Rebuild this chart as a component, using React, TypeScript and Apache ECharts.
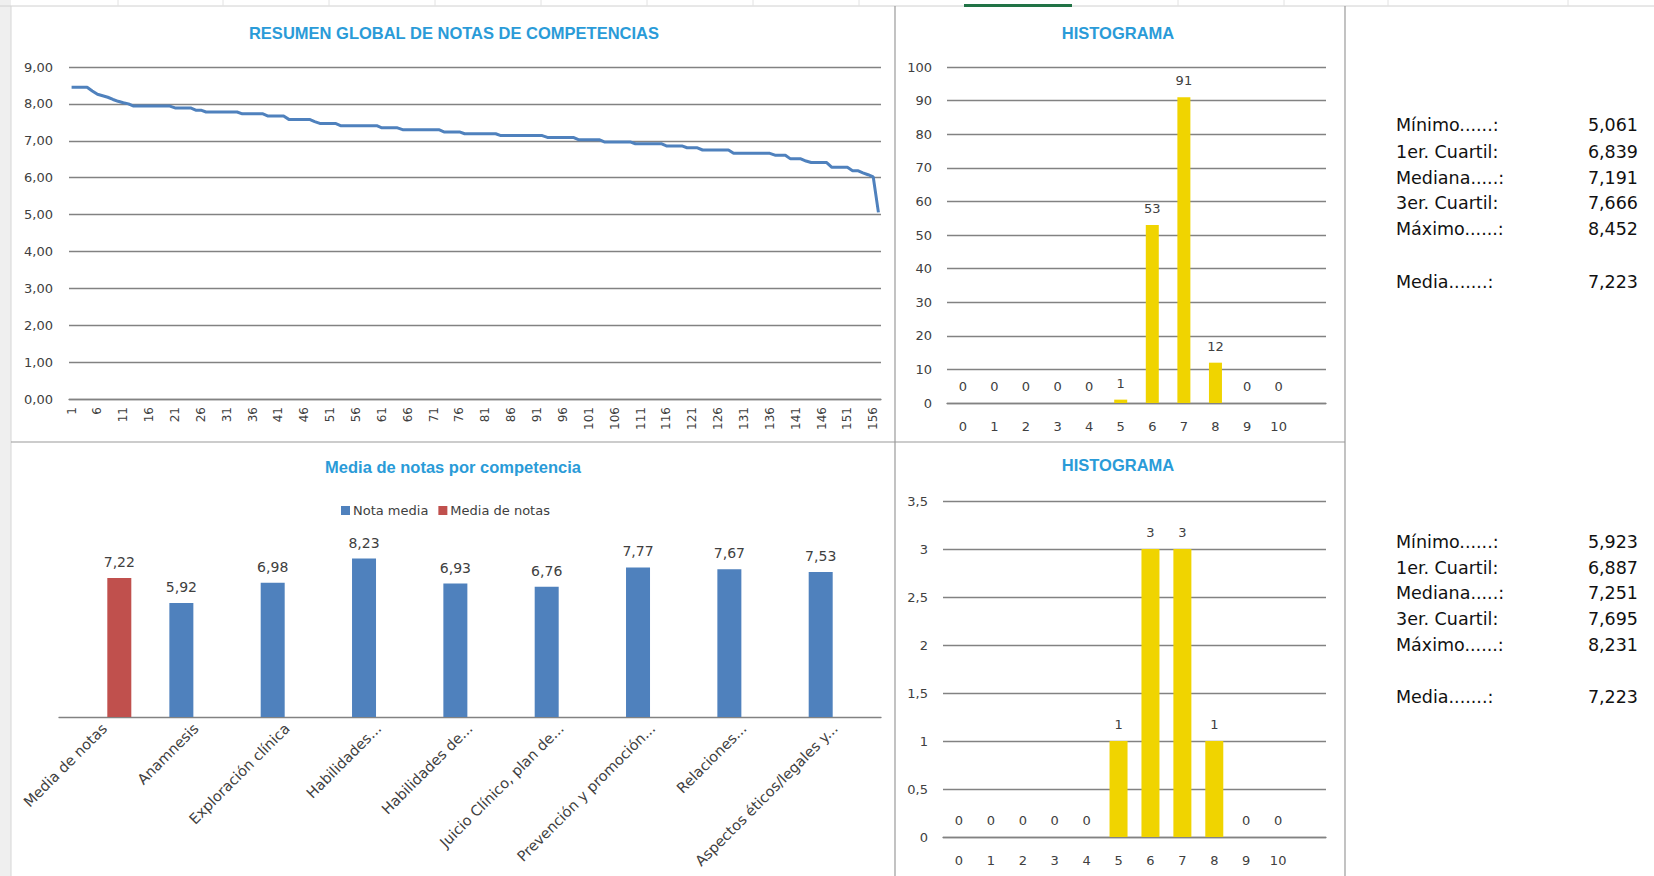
import React, { useEffect, useRef } from 'react';
import * as echarts from 'echarts';

// ---------- DATA ----------
const lineCategories: string[] = Array.from({ length: 157 }, (_, i) => String(i + 1));

const lineValues: number[] = [
  8.45, 8.45, 8.45, 8.45, 8.35, 8.26, 8.22, 8.18, 8.12, 8.07, 8.03, 8.0,
  7.94, 7.94, 7.94, 7.94, 7.94, 7.94, 7.94, 7.94,
  7.89, 7.89, 7.89, 7.89,
  7.83, 7.83,
  7.78, 7.78, 7.78, 7.78, 7.78, 7.78, 7.78,
  7.73, 7.73, 7.73, 7.73, 7.73,
  7.67, 7.67, 7.67, 7.67,
  7.58, 7.58, 7.58, 7.58, 7.58,
  7.52,
  7.47, 7.47, 7.47, 7.47,
  7.41, 7.41, 7.41, 7.41, 7.41, 7.41, 7.41, 7.41,
  7.35, 7.35, 7.35, 7.35,
  7.3, 7.3, 7.3, 7.3, 7.3, 7.3, 7.3, 7.3,
  7.24, 7.24, 7.24, 7.24,
  7.19, 7.19, 7.19, 7.19, 7.19, 7.19, 7.19,
  7.14, 7.14, 7.14, 7.14, 7.14, 7.14, 7.14, 7.14, 7.14,
  7.09, 7.09, 7.09, 7.09, 7.09, 7.09,
  7.03, 7.03, 7.03, 7.03, 7.03,
  6.97, 6.97, 6.97, 6.97, 6.97, 6.97,
  6.92, 6.92, 6.92, 6.92, 6.92, 6.92,
  6.86, 6.86, 6.86, 6.86,
  6.81, 6.81, 6.81,
  6.75, 6.75, 6.75, 6.75, 6.75, 6.75,
  6.66, 6.66, 6.66, 6.66, 6.66, 6.66, 6.66, 6.66,
  6.61, 6.61, 6.61,
  6.51, 6.51, 6.51,
  6.45,
  6.41, 6.41, 6.41, 6.41,
  6.28, 6.28, 6.28, 6.28,
  6.19, 6.19,
  6.13, 6.08, 6.02, 5.06,
];

const histCategories: string[] = ['0', '1', '2', '3', '4', '5', '6', '7', '8', '9', '10', ''];
const histTopCounts: (number | string)[] = [0, 0, 0, 0, 0, 1, 53, 91, 12, 0, 0, '-'];
const histBottomCounts: (number | string)[] = [0, 0, 0, 0, 0, 1, 3, 3, 1, 0, 0, '-'];

const compCategories: string[] = [
  'Media de notas',
  'Anamnesis',
  'Exploración clínica',
  'Habilidades...',
  'Habilidades de...',
  'Juicio Clínico, plan de...',
  'Prevención y promoción...',
  'Relaciones...',
  'Aspectos éticos/legales y...',
];
const notaMedia: (number | string)[] = ['-', 5.92, 6.98, 8.23, 6.93, 6.76, 7.77, 7.67, 7.53];
const mediaNotas: (number | string)[] = [7.22, '-', '-', '-', '-', '-', '-', '-', '-'];

const statLabels: string[] = ['Mínimo......:', '1er. Cuartil:', 'Mediana.....:', '3er. Cuartil:', 'Máximo......:', 'Media.......:'];
const statsTop: string[] = ['5,061', '6,839', '7,191', '7,666', '8,452', '7,223'];
const statsBottom: string[] = ['5,923', '6,887', '7,251', '7,695', '8,231', '7,223'];

const titles: string[] = ['RESUMEN GLOBAL DE NOTAS DE COMPETENCIAS', 'HISTOGRAMA', 'Media de notas por competencia', 'HISTOGRAMA'];

// ---------- STYLE ----------
const AX_FONT = '"DejaVu Sans", sans-serif';
const TITLE_FONT = '"Liberation Sans", Arial, sans-serif';
const GRID_COLOR = '#828282';
const TEXT_COLOR = '#404040';
const TITLE_COLOR = '#2a9bd8';
const BLUE = '#4f81bd';
const RED = '#c0504d';
const YELLOW = '#f0d400';

const comma = (v: number, d?: number) => (d === undefined ? String(v) : v.toFixed(d)).replace('.', ',');

function titleText(text: string, x: number, y: number) {
  return {
    type: 'text',
    x,
    y,
    silent: true,
    style: {
      text,
      fill: TITLE_COLOR,
      fontFamily: TITLE_FONT,
      fontWeight: 'bold',
      fontSize: 16.5,
      align: 'center',
      verticalAlign: 'middle',
      textAlign: 'center',
      textVerticalAlign: 'middle',
    },
  };
}

function statsGroup(values: string[], ys: number[]) {
  const els: any[] = [];
  statLabels.forEach((lab, i) => {
    els.push({
      type: 'text',
      x: 1396,
      y: ys[i],
      silent: true,
      style: { text: lab, fill: '#111', fontFamily: AX_FONT, fontSize: 17.5, align: 'left', verticalAlign: 'middle', textAlign: 'left', textVerticalAlign: 'middle' },
    });
    els.push({
      type: 'text',
      x: 1638,
      y: ys[i],
      silent: true,
      style: { text: values[i], fill: '#111', fontFamily: AX_FONT, fontSize: 17.5, align: 'right', verticalAlign: 'middle', textAlign: 'right', textVerticalAlign: 'middle' },
    });
  });
  return els;
}

export default function App() {
  const ref = useRef<HTMLDivElement>(null);

  useEffect(() => {
    if (!ref.current) return;
    const chart = echarts.init(ref.current, undefined, { renderer: 'svg' });

    const colTicks = [118, 223, 329, 435, 541, 647, 753, 859, 1178, 1284, 1388, 1568];

    const graphic: any[] = [
      { type: 'rect', shape: { x: 0, y: 0, width: 11, height: 876 }, style: { fill: '#efefef' }, silent: true },
      { type: 'line', shape: { x1: 0, y1: 6, x2: 1654, y2: 6 }, style: { stroke: '#d0d0d0', lineWidth: 1 }, silent: true },
      ...colTicks.map((x) => ({ type: 'line', shape: { x1: x, y1: 0, x2: x, y2: 6 }, style: { stroke: '#e2e2e2', lineWidth: 1 }, silent: true })),
      { type: 'rect', shape: { x: 964, y: 4, width: 108, height: 3 }, style: { fill: '#217346' }, silent: true },
      { type: 'line', shape: { x1: 11, y1: 6, x2: 11, y2: 876 }, style: { stroke: '#d6d6d6', lineWidth: 1 }, silent: true },
      { type: 'line', shape: { x1: 895, y1: 6, x2: 895, y2: 876 }, style: { stroke: '#9a9a9a', lineWidth: 1.2 }, silent: true },
      { type: 'line', shape: { x1: 1345, y1: 6, x2: 1345, y2: 876 }, style: { stroke: '#9a9a9a', lineWidth: 1.2 }, silent: true },
      { type: 'line', shape: { x1: 11, y1: 442, x2: 1345, y2: 442 }, style: { stroke: '#9a9a9a', lineWidth: 1.2 }, silent: true },
      titleText(titles[0], 454, 33),
      titleText(titles[1], 1118, 33),
      titleText(titles[2], 453, 467),
      titleText(titles[3], 1118, 465),
      ...statsGroup(statsTop, [125, 152, 178, 203, 229, 282]),
      ...statsGroup(statsBottom, [542, 568, 593, 619, 645, 697]),
    ];

    const axisLabelBase = { color: TEXT_COLOR, fontFamily: AX_FONT, fontSize: 13 };

    const option: any = {
      animation: false,
      backgroundColor: '#ffffff',
      graphic,
      legend: {
        data: ['Nota media', 'Media de notas'],
        left: 336,
        top: 499,
        itemWidth: 9,
        itemHeight: 9,
        itemGap: 10,
        icon: 'rect',
        textStyle: { color: TEXT_COLOR, fontFamily: AX_FONT, fontSize: 13, padding: [0, 0, 0, -2] },
      },
      grid: [
        { left: 69, top: 67, width: 812, height: 332 },
        { left: 947, top: 67, width: 379, height: 336 },
        { left: 59, top: 524.5, width: 822, height: 192.5 },
        { left: 943, top: 501, width: 383, height: 336 },
      ],
      xAxis: [
        {
          gridIndex: 0,
          type: 'category',
          data: lineCategories,
          boundaryGap: true,
          axisLine: { show: true, lineStyle: { color: GRID_COLOR, width: 1.3 } },
          axisTick: { show: false },
          axisLabel: { ...axisLabelBase, fontSize: 12, rotate: 90, interval: 4, margin: 8 },
        },
        {
          gridIndex: 1,
          type: 'category',
          data: histCategories,
          axisLine: { show: true, lineStyle: { color: GRID_COLOR, width: 1.3 } },
          axisTick: { show: false },
          axisLabel: { ...axisLabelBase, margin: 17, interval: 0 },
        },
        {
          gridIndex: 2,
          type: 'category',
          data: compCategories,
          axisLine: { show: true, lineStyle: { color: GRID_COLOR, width: 1.3 } },
          axisTick: { show: false },
          axisLabel: { ...axisLabelBase, fontSize: 14.5, rotate: 45, interval: 0, margin: 9 },
        },
        {
          gridIndex: 3,
          type: 'category',
          data: histCategories,
          axisLine: { show: true, lineStyle: { color: GRID_COLOR, width: 1.3 } },
          axisTick: { show: false },
          axisLabel: { ...axisLabelBase, margin: 17, interval: 0 },
        },
      ],
      yAxis: [
        {
          gridIndex: 0,
          type: 'value',
          min: 0,
          max: 9,
          interval: 1,
          axisLine: { show: false },
          axisTick: { show: false },
          splitLine: { lineStyle: { color: GRID_COLOR, width: 1.3 } },
          axisLabel: { ...axisLabelBase, margin: 16, formatter: (v: number) => comma(v, 2) },
        },
        {
          gridIndex: 1,
          type: 'value',
          min: 0,
          max: 100,
          interval: 10,
          axisLine: { show: false },
          axisTick: { show: false },
          splitLine: { lineStyle: { color: GRID_COLOR, width: 1.3 } },
          axisLabel: { ...axisLabelBase, margin: 15 },
        },
        {
          gridIndex: 2,
          type: 'value',
          min: 0,
          max: 10,
          show: false,
          splitLine: { show: false },
        },
        {
          gridIndex: 3,
          type: 'value',
          min: 0,
          max: 3.5,
          interval: 0.5,
          axisLine: { show: false },
          axisTick: { show: false },
          splitLine: { lineStyle: { color: GRID_COLOR, width: 1.3 } },
          axisLabel: { ...axisLabelBase, margin: 15, formatter: (v: number) => comma(v) },
        },
      ],
      series: [
        {
          type: 'line',
          name: 'Notas',
          xAxisIndex: 0,
          yAxisIndex: 0,
          data: lineValues,
          showSymbol: false,
          symbol: 'none',
          lineStyle: { color: BLUE, width: 3 },
          itemStyle: { color: BLUE },
        },
        {
          type: 'bar',
          name: 'Histograma 1',
          xAxisIndex: 1,
          yAxisIndex: 1,
          data: histTopCounts,
          barWidth: 13,
          itemStyle: { color: YELLOW },
          label: { show: true, position: 'top', distance: 10, color: TEXT_COLOR, fontFamily: AX_FONT, fontSize: 13 },
        },
        {
          type: 'bar',
          name: 'Nota media',
          xAxisIndex: 2,
          yAxisIndex: 2,
          data: notaMedia,
          barWidth: 24,
          barGap: '22%',
          itemStyle: { color: BLUE },
          label: { show: true, position: 'top', distance: 9, color: TEXT_COLOR, fontFamily: AX_FONT, fontSize: 14, formatter: (p: any) => comma(p.value, 2) },
        },
        {
          type: 'bar',
          name: 'Media de notas',
          xAxisIndex: 2,
          yAxisIndex: 2,
          data: mediaNotas,
          barWidth: 24,
          barGap: '22%',
          itemStyle: { color: RED },
          label: { show: true, position: 'top', distance: 9, color: TEXT_COLOR, fontFamily: AX_FONT, fontSize: 14, formatter: (p: any) => comma(p.value, 2) },
        },
        {
          type: 'bar',
          name: 'Histograma 2',
          xAxisIndex: 3,
          yAxisIndex: 3,
          data: histBottomCounts,
          barWidth: 18,
          itemStyle: { color: YELLOW },
          label: { show: true, position: 'top', distance: 10, color: TEXT_COLOR, fontFamily: AX_FONT, fontSize: 13 },
        },
      ],
    };

    chart.setOption(option);
    return () => chart.dispose();
  }, []);

  return (
    <div
      ref={ref}
      style={{ position: 'fixed', left: 0, top: 0, width: 1654, height: 876, background: '#ffffff' }}
    />
  );
}
